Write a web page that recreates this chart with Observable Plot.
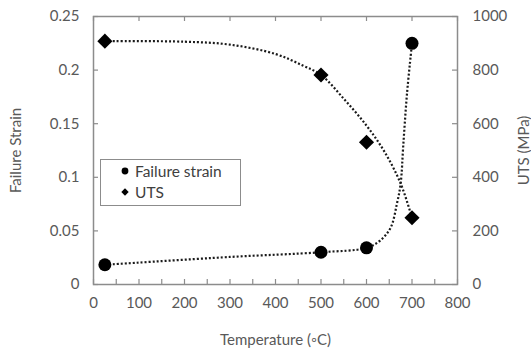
<!DOCTYPE html>
<html>
<head>
<meta charset="utf-8">
<script src="https://cdn.jsdelivr.net/npm/d3@7"></script>
<script src="https://cdn.jsdelivr.net/npm/@observablehq/plot@0.6"></script>
<style>
  html, body { margin: 0; padding: 0; background: #fff; }
  #wrap { position: relative; width: 531px; height: 350px; font-family: Lato, "Open Sans", sans-serif; }
  #legend { position: absolute; left: 100px; top: 159px; width: 141px; height: 47px; box-sizing: border-box;
            border: 1.5px solid #8c8c8c; background: #fff; font-size: 15.5px; color: #404040; }
  .item { position: absolute; left: 20px; display: flex; align-items: center; }
  .item svg { margin-right: 6px; }
</style>
</head>
<body>
<div id="wrap"></div>
<script>
// Measured points
const temps = [25, 500, 600, 700];
const failureStrain = [0.0184, 0.0301, 0.0342, 0.225];
const uts = [908, 782, 531, 249];

// Dotted trend lines
const strainTrendT = [25, 300, 500, 600, 630, 653, 667, 675, 681, 689, 700];
const strainTrendV = [0.0184, 0.0257, 0.0301, 0.0342, 0.041, 0.053, 0.0756, 0.094, 0.131, 0.178, 0.225];
const utsTrendT = [25, 200, 300, 400, 460, 500, 550, 600, 640, 675, 700];
const utsTrendV = [908, 906, 895, 860, 817, 782, 693, 593, 494, 377, 249];

// Axis ticks
const xTickLabels = [0, 100, 200, 300, 400, 500, 600, 700, 800];
const xMinorTicks = [0, 50, 100, 150, 200, 250, 300, 350, 400, 450, 500, 550, 600, 650, 700, 750, 800];
const strainTicks = [0, 0.05, 0.1, 0.15, 0.2, 0.25];
const utsTicks = [0, 200, 400, 600, 800, 1000];

const UTS_MAX = 1000, STRAIN_MAX = 0.25;
const toStrain = v => v / UTS_MAX * STRAIN_MAX; // secondary-axis conversion

const pts = temps.map((t, i) => ({t, strain: failureStrain[i], uts: uts[i]}));
const sTrend = strainTrendT.map((t, i) => ({t, v: strainTrendV[i]}));
const uTrend = utsTrendT.map((t, i) => ({t, v: utsTrendV[i]}));

const W = 531, H = 350, mL = 93, mR = 74, mT = 16, mB = 66;
const innerW = W - mL - mR, innerH = H - mT - mB;
const frameColor = "#8c8c8c";
const textColor = "#595959";
const tk = 5;
const dotted = {stroke: "#1a1a1a", strokeWidth: 2.2, strokeDasharray: "2 2", strokeLinecap: "butt"};

const chart = Plot.plot({
  width: W, height: H,
  marginLeft: mL, marginRight: mR, marginTop: mT, marginBottom: mB,
  x: {domain: [0, 800]},
  y: {domain: [0, STRAIN_MAX]},
  style: {fontFamily: "Lato, 'Open Sans', sans-serif", fontSize: "15px", color: textColor, background: "#fff"},
  marks: [
    Plot.frame({stroke: frameColor, strokeWidth: 1.5}),
    // inward tick marks
    Plot.tickX(xMinorTicks, {x: d => d, insetTop: innerH - tk, stroke: frameColor, strokeWidth: 1.2}),
    Plot.tickX(xTickLabels, {x: d => d, insetBottom: innerH - tk, stroke: frameColor, strokeWidth: 1.2}),
    Plot.tickY(strainTicks, {y: d => d, insetRight: innerW - tk, stroke: frameColor, strokeWidth: 1.2}),
    Plot.tickY(utsTicks, {y: d => toStrain(d), insetLeft: innerW - tk, stroke: frameColor, strokeWidth: 1.2}),
    // axes labels
    Plot.axisX({ticks: xTickLabels, tickSize: 0, tickPadding: 13, tickFormat: d => String(d),
      label: "Temperature (◦C)", labelAnchor: "center", labelArrow: "none", labelOffset: 60, fill: textColor}),
    Plot.axisY({ticks: strainTicks, tickSize: 0, tickPadding: 14, tickFormat: d => String(d),
      label: "Failure Strain", labelAnchor: "center", labelArrow: "none", labelOffset: 83, fill: textColor}),
    Plot.axisY({anchor: "right", ticks: utsTicks.map(toStrain), tickSize: 0, tickPadding: 15,
      tickFormat: d => String(Math.round(d / STRAIN_MAX * UTS_MAX)),
      label: "UTS (MPa)", labelAnchor: "center", labelArrow: "none", labelOffset: 71, fill: textColor}),
    // trend lines
    Plot.line(sTrend, {x: "t", y: "v", curve: "catmull-rom", ...dotted}),
    Plot.line(uTrend, {x: "t", y: d => toStrain(d.v), curve: "catmull-rom", ...dotted}),
    // markers
    Plot.dot(pts, {x: "t", y: "strain", r: 6.5, fill: "#000", stroke: "none"}),
    Plot.dot(pts, {x: "t", y: d => toStrain(d.uts), symbol: "diamond2", r: 6.8, fill: "#000", stroke: "none"})
  ]
});

const wrap = document.getElementById("wrap");
wrap.appendChild(chart);

const legend = document.createElement("div");
legend.id = "legend";
legend.innerHTML = `
  <div class="item" style="top:2px"><svg width="8" height="8"><circle cx="4" cy="4" r="3.4" fill="#000"/></svg>Failure strain</div>
  <div class="item" style="top:23px"><svg width="8" height="8"><path d="M4 0.3L7.7 4L4 7.7L0.3 4Z" fill="#000"/></svg>UTS</div>`;
wrap.appendChild(legend);
</script>
</body>
</html>
